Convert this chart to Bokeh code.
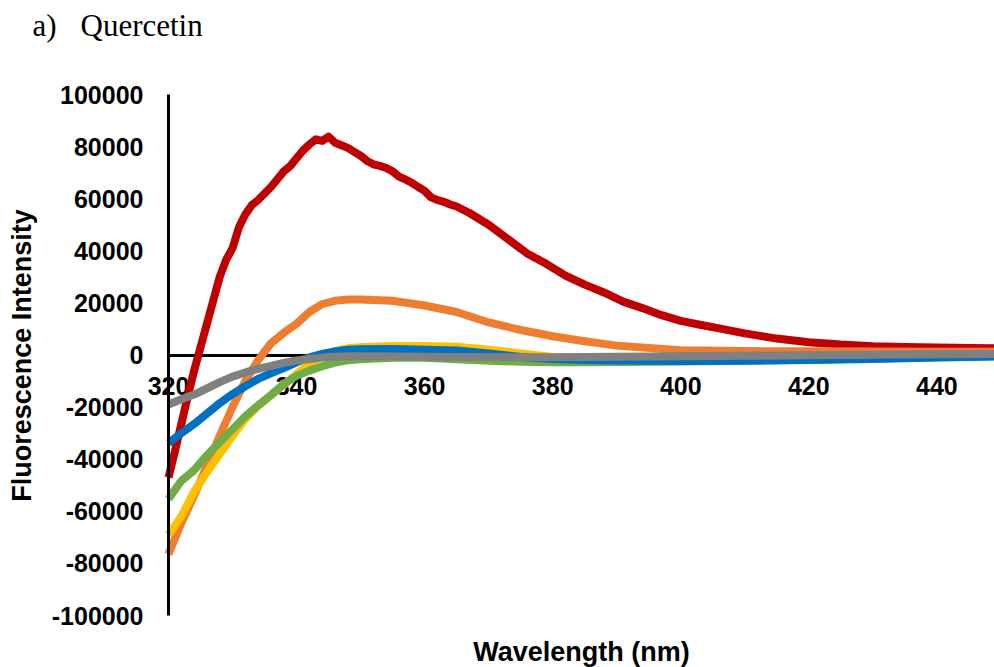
import math

from bokeh.plotting import figure
from bokeh.models import Range1d, FixedTicker, Label
from bokeh.embed import file_html
from bokeh.resources import INLINE

# Emission spectra of quercetin: wavelength (nm) vs fluorescence intensity

# red trace, sampled finely through the steep rise and peak
wl_red = list(range(320, 366)) + [367, 370, 373, 376, 379, 382, 385, 388, 391, 394,
                                  397, 400, 403, 406, 410, 415, 420, 425, 430, 435,
                                  440, 445, 449]
red = [-47000, -37000, -26500, -16000, -6000, 3000, 12000, 21000, 30000, 36500,
       41000, 49000, 54000, 57500, 59500, 62000, 64500, 67500, 70500, 72500,
       75500, 78500, 80800, 82800, 82200, 83800, 81500, 80500, 79500, 78000,
       76500, 74500, 73200, 72600, 71800, 70500, 68500, 67400, 66100, 64500,
       63000, 60500, 59500, 58800, 57800, 57000,
       54500, 50000, 44500, 39000, 35000, 30500, 27000, 24000, 20500, 18000,
       15300, 13100, 11600, 10200, 8300, 6300, 4900, 4000, 3400, 3100,
       2900, 2700, 2600]

# remaining traces share one wavelength grid
wl = [320, 322, 324, 326, 328, 330, 332, 334, 336, 338, 340, 342, 344, 346, 348,
      350, 355, 360, 365, 370, 375, 380, 385, 390, 400, 410, 420, 430, 440, 449]
orange = [-76500, -64500, -54000, -42500, -31000, -20000, -10000, -2000, 4500, 8500,
          12000, 16500, 19500, 20800, 21300, 21300, 20800, 19000, 16500, 12500,
          9600, 7200, 5300, 3600, 1800, 1500, 1400, 1300, 1200, 1200]
yellow = [-69000, -62000, -52500, -45000, -38000, -31000, -24500, -19500, -15500, -11500,
          -7300, -3500, -500, 1600, 2600, 3000, 3500, 3500, 3200, 2000,
          600, -800, -1300, -1500, -1400, -1200, -1000, -700, -400, -200]
blue = [-33800, -30000, -26500, -22500, -18500, -15000, -12000, -9200, -7000, -5000,
        -2800, -900, 400, 1400, 2000, 2200, 2300, 2000, 1700, 600,
        -800, -1500, -1900, -2100, -2300, -2200, -1900, -1500, -1000, -600]
green = [-55300, -48300, -44200, -38500, -33500, -28500, -23500, -19300, -15400, -11100,
         -8000, -6000, -4300, -2900, -2000, -1600, -1100, -1100, -1600, -2200,
         -2600, -2800, -2800, -2700, -2500, -2200, -1800, -1300, -900, -500]
grey = [-19000, -17000, -15200, -12800, -10400, -8300, -6700, -5300, -4200, -3000,
        -2100, -1500, -1000, -700, -500, -500, -600, -700, -800, -900,
        -900, -900, -800, -700, -500, -300, -100, 100, 300, 400]

x_ticks = [320, 340, 360, 380, 400, 420, 440]
y_ticks = [-100000, -80000, -60000, -40000, -20000, 0,
           20000, 40000, 60000, 80000, 100000]

# axis extents and where the plotting box sits on the canvas
X_MIN, X_MAX = 320, 449
Y_MIN, Y_MAX = -100000, 100000
W, H = 994, 667
BOX_LEFT, BOX_RIGHT, BOX_TOP, BOX_BOTTOM = 168, 994, 94, 615

# the frame covers the whole canvas, so axes sit inside it at fixed positions
x_per_px = (X_MAX - X_MIN) / (BOX_RIGHT - BOX_LEFT)
y_per_px = (Y_MAX - Y_MIN) / (BOX_BOTTOM - BOX_TOP)
x_range = Range1d(X_MIN - BOX_LEFT * x_per_px, X_MAX + (W - BOX_RIGHT) * x_per_px)
y_range = Range1d(Y_MIN - (H - BOX_BOTTOM) * y_per_px, Y_MAX + BOX_TOP * y_per_px)

AXIS_FONT = "Liberation Sans"

p = figure(width=W, height=H, output_backend="svg", toolbar_location=None,
           x_range=x_range, y_range=y_range,
           min_border_left=0, min_border_right=0, min_border_top=0,
           min_border_bottom=0)
p.outline_line_color = None
p.xgrid.visible = False
p.ygrid.visible = False
p.background_fill_color = "white"
p.border_fill_color = "white"

LW = 8
p.line(wl_red, red, line_color="#C00000", line_width=LW, line_join="round")
p.line(wl, orange, line_color="#ED7D31", line_width=LW, line_join="round")
p.line(wl, yellow, line_color="#FFC000", line_width=LW, line_join="round")
p.line(wl, green, line_color="#70AD47", line_width=LW, line_join="round")
p.line(wl, blue, line_color="#0070C0", line_width=LW, line_join="round")
p.line(wl, grey, line_color="#808080", line_width=LW, line_join="round")

# x axis crosses at zero intensity, drawn beneath the traces
xa = p.xaxis[0]
xa.fixed_location = 0
xa.bounds = (X_MIN, X_MAX)
xa.level = "underlay"
xa.ticker = FixedTicker(ticks=x_ticks)
xa.major_label_overrides = {t: str(t) for t in x_ticks}
xa.axis_line_color = "black"
xa.axis_line_width = 3
xa.major_tick_line_color = None
xa.minor_tick_line_color = None
xa.major_label_standoff = 16
xa.major_label_text_font = AXIS_FONT
xa.major_label_text_font_style = "bold"
xa.major_label_text_font_size = "25px"
xa.major_label_text_color = "black"

# y axis at the start of the wavelength range
ya = p.yaxis[0]
ya.fixed_location = X_MIN
ya.bounds = (Y_MIN, Y_MAX)
ya.ticker = FixedTicker(ticks=y_ticks)
ya.major_label_overrides = {t: str(t) for t in y_ticks}
ya.axis_line_color = "black"
ya.axis_line_width = 3
ya.major_tick_line_color = None
ya.minor_tick_line_color = None
ya.major_label_standoff = 19
ya.major_label_text_font = AXIS_FONT
ya.major_label_text_font_style = "bold"
ya.major_label_text_font_size = "25px"
ya.major_label_text_color = "black"

# axis titles and panel caption (screen units measured from bottom-left)
p.add_layout(Label(x=21, y=H - 355, x_units="screen", y_units="screen",
                   text="Fluorescence Intensity", angle=math.pi / 2,
                   text_align="center", text_baseline="alphabetic",
                   text_font=AXIS_FONT, text_font_style="bold",
                   text_font_size="27px", text_color="black"))
p.add_layout(Label(x=(BOX_LEFT + BOX_RIGHT) / 2, y=H - 651,
                   x_units="screen", y_units="screen",
                   text="Wavelength (nm)", text_align="center",
                   text_baseline="alphabetic", text_font=AXIS_FONT,
                   text_font_style="bold", text_font_size="27px",
                   text_color="black"))
p.add_layout(Label(x=32, y=H - 25, x_units="screen", y_units="screen",
                   text="a)", text_align="left", text_baseline="alphabetic",
                   text_font="Liberation Serif", text_font_size="31px",
                   text_color="black"))
p.add_layout(Label(x=80, y=H - 25, x_units="screen", y_units="screen",
                   text="Quercetin", text_align="left", text_baseline="alphabetic",
                   text_font="Liberation Serif", text_font_size="31px",
                   text_color="black"))

open("out.html", "w").write(file_html(p, INLINE))
